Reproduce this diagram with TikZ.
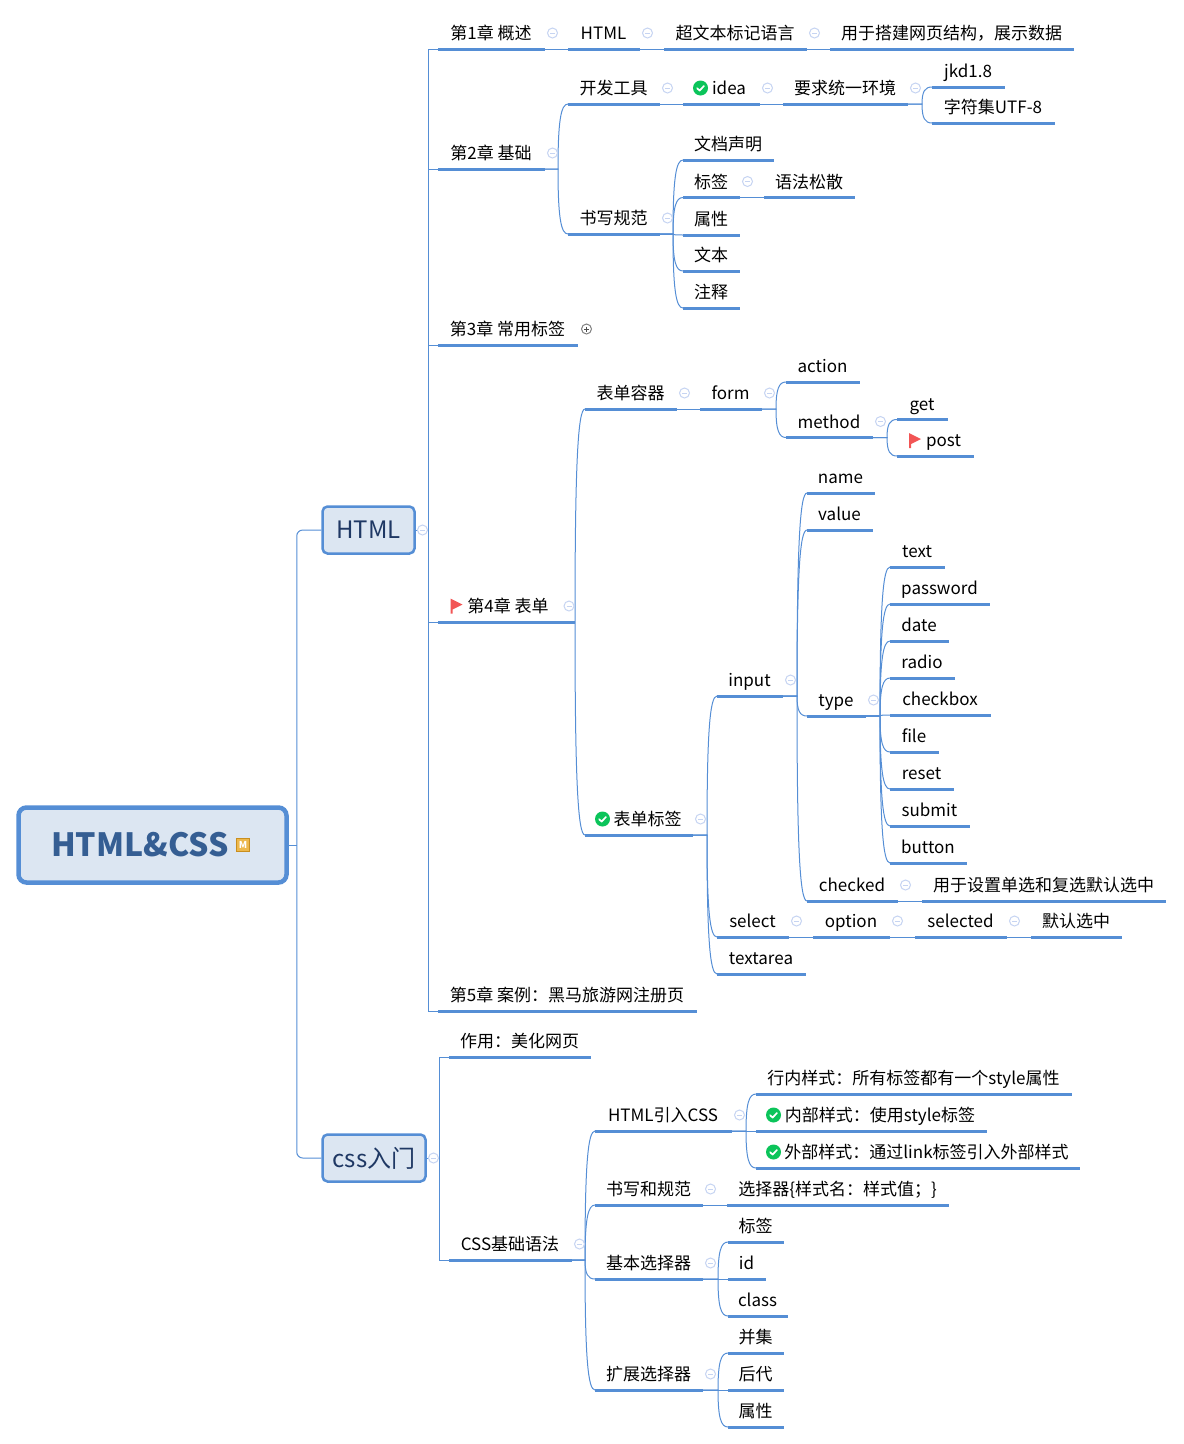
\documentclass[tikz,border=0pt]{standalone}
\usepackage{fontspec}
\setmainfont{Noto Sans CJK SC}
\usetikzlibrary{calc}
\definecolor{lineblue}{HTML}{558ED5}
\definecolor{boxfill}{HTML}{DCE6F2}
\definecolor{roottext}{HTML}{355E93}
\definecolor{subtext}{HTML}{1F3864}
\definecolor{colring}{HTML}{C6D4F2}
\definecolor{okgreen}{HTML}{0BC45A}
\definecolor{flagred}{HTML}{F25555}
\definecolor{mfill}{HTML}{EDB84C}
\definecolor{mdraw}{HTML}{C98E1E}
\tikzset{
  topic/.style={anchor=south west,inner sep=0pt,outer sep=0pt,minimum height=32pt,text height=13pt,text depth=0pt,align=center,font=\fontsize{17}{20}\selectfont,text=black},
  uline/.style={draw=lineblue,line width=3pt},
  thin link/.style={draw=lineblue,line width=1pt},
  curvelink/.style={draw=lineblue,line width=1pt},
  colicon/.style={circle,draw=colring,fill=white,line width=1pt,minimum size=10pt,inner sep=0pt},
  rootbox/.style={draw=lineblue,fill=boxfill,line width=4.5pt,rounded corners=8pt,minimum width=268pt,minimum height=75pt,inner sep=0pt,text=roottext,font=\fontsize{32}{36}\selectfont\bfseries},
  subbox/.style={draw=lineblue,fill=boxfill,line width=2.5pt,rounded corners=5pt,minimum height=47pt,inner sep=0pt,text=subtext,font=\fontsize{24}{28}\selectfont},
}
% name, left, right, underline y, text
\newcommand\T[5]{\node[topic,minimum width={(#3-#2)*1pt}] (#1) at (#2,#4) {#5\hspace*{1pt}};\draw[uline] (#1.south west) -- (#1.south east);}
% straight link between underlines
\newcommand\Lk[2]{\draw[thin link] (#1.south east) -- (#2.south west);}
% curved bracket link
\newcommand\Br[2]{\draw[curvelink] (#1.south east) -- ($(#1.south east -| #2.south west)+(-10,0)$) .. controls ($(#1.south east -| #2.south west)!.75!(#2.south west)+(-10,0)$) and ($(#2.south west)+(-7,0)$) .. (#2.south west);}
% square elbow link
\newcommand\Eb[2]{\draw[thin link] (#1.east) -- ($(#1.east -| #2.south west)+(-10,0)$) -- ($(#2.south west)+(-10,0)$) -- (#2.south west);}
% collapse icon relative to the right end of a topic
\newcommand\Cl[2][7.5]{\node[colicon] (#2-c) at ($(#2.south east)+(#1,-16)$) {};\draw[colring,line width=1pt] ($(#2-c.center)+(-2.5,0)$) -- ($(#2-c.center)+(2.5,0)$);}
\newcommand\Chk[2]{\fill[okgreen] (#1,#2) circle (7.5);\draw[white,line width=1.7pt,line cap=round,line join=round] (#1-3.4,#2+0.2) -- (#1-0.9,#2+2.6) -- (#1+3.4,#2-2);}
\newcommand\Flag[2]{\fill[flagred] (#1-6,#2-7.5) -- (#1+6,#2-1.5) -- (#1-4,#2+3.5) -- (#1-4,#2+7.5) -- (#1-6,#2+7.5) -- cycle;}
\begin{document}
\begin{tikzpicture}[x=1pt,y=-1pt]
\useasboundingbox (0,0) rectangle (1184,1444);
% main boxes
\node[rootbox] (root) at (152.5,845) {HTML\&CSS\hspace*{25pt}};
\node[subbox,minimum width=92pt] (html) at (368.5,530) {HTML};
\node[subbox,minimum width=103pt] (css) at (374,1158) {css入门};
\coordinate (rootj) at ($(root.east)+(8,0)$);
\draw[thin link] (root.east) -- (rootj);
\draw[thin link,rounded corners=6pt] (html.west) -- (rootj |- html.west) -- (rootj |- css.west) -- (css.west);
\draw[fill=mfill,draw=mdraw,line width=1pt] (236.5,838) rectangle (249.5,851);
\node[inner sep=0pt,text=white,font=\fontsize{9.5}{10}\selectfont\bfseries] (rootm) at (243,844.5) {M};

% Chapter 1
\T{c1}{438}{545}{49}{第1章 概述}
\T{c1a}{568}{640}{49}{HTML}
\T{c1b}{664}{807}{49}{超文本标记语言}
\T{c1c}{830}{1074}{49}{用于搭建网页结构，展示数据}
% Chapter 2
\T{c2}{438}{545}{169}{第2章 基础}
\T{c2a}{568}{660}{104}{开发工具}
\T{idea}{683}{760}{104}{\hspace*{16pt}idea}
\T{env}{783}{908}{104}{要求统一环境}
\T{jkd}{932}{1005}{87}{jkd1.8}
\T{utf}{932}{1055}{123}{字符集UTF-8}
\T{c2b}{568}{660}{234}{书写规范}
\T{doc}{683}{774}{160}{文档声明}
\T{tag}{683}{740}{197.5}{标签}
\T{loose}{764}{855}{197.5}{语法松散}
\T{attr}{683}{740}{235}{属性}
\T{txt}{683}{740}{271}{文本}
\T{cmt}{683}{740}{308}{注释}
% Chapter 3
\T{c3}{438}{578}{345}{第3章 常用标签}
% Chapter 4
\T{c4}{438}{575}{622}{\hspace*{16pt}第4章 表单\hspace*{12pt}}
\T{fc}{585}{677}{409}{表单容器}
\T{form}{700}{762}{409}{form}
\T{action}{786}{860}{382}{action}
\T{method}{786}{873}{437.5}{method}
\T{get}{897}{948}{419.5}{get}
\T{post}{897}{974}{456}{\hspace*{17pt}post}
\T{ft}{585}{693}{835}{\hspace*{18pt}表单标签}
\T{input}{717}{783}{696}{input}
\T{name}{807}{875}{493}{name}
\T{value}{807}{873}{530}{value}
\T{type}{807}{866}{716}{type}
\T{ttext}{890}{945}{567}{text}
\T{tpass}{890}{990}{604}{password}
\T{tdate}{890}{949}{641}{date}
\T{tradio}{890}{955}{678}{radio}
\T{tcheck}{890}{991}{715}{checkbox}
\T{tfile}{890}{939}{752}{file}
\T{treset}{890}{954}{789}{reset}
\T{tsubmit}{890}{970}{826}{submit}
\T{tbutton}{890}{967}{863}{button}
\T{checked}{807}{898}{901}{checked}
\T{chkdesc}{922}{1166}{901}{用于设置单选和复选默认选中}
\T{select}{717}{789}{937}{select}
\T{option}{813}{890}{937}{option}
\T{selected}{915}{1007}{937}{selected}
\T{default}{1031}{1122}{937}{默认选中}
\T{textarea}{717}{806}{974}{textarea}
% Chapter 5
\T{c5}{438}{697}{1011}{第5章 案例：黑马旅游网注册页}
% CSS
\T{effect}{449}{591}{1057}{作用：美化网页}
\T{basic}{449}{572}{1260}{CSS基础语法}
\T{import}{595}{732}{1131}{HTML引入CSS}
\T{inline}{756}{1072}{1094}{行内样式：所有标签都有一个style属性}
\T{internal}{756}{987}{1131}{\hspace*{18pt}内部样式：使用style标签}
\T{external}{756}{1080}{1168}{\hspace*{18pt}外部样式：通过link标签引入外部样式}
\T{write}{595}{703}{1205}{书写和规范}
\T{rule}{727}{949}{1205}{选择器\{样式名：样式值；\}}
\T{bsel}{595}{703}{1279}{基本选择器}
\T{stag}{728}{784}{1242}{标签}
\T{sid}{728}{766}{1279}{id}
\T{sclass}{728}{788}{1316}{class}
\T{esel}{595}{703}{1390}{扩展选择器}
\T{union}{728}{784}{1353}{并集}
\T{desc}{728}{784}{1390}{后代}
\T{sattr}{728}{784}{1427}{属性}

% connectors
\Eb{html}{c1}\Eb{html}{c2}\Eb{html}{c3}\Eb{html}{c4}\Eb{html}{c5}
\Lk{c1}{c1a}\Lk{c1a}{c1b}\Lk{c1b}{c1c}
\Br{c2}{c2a}\Br{c2}{c2b}
\Lk{c2a}{idea}\Lk{idea}{env}
\Br{env}{jkd}\Br{env}{utf}
\Br{c2b}{doc}\Br{c2b}{tag}\Br{c2b}{attr}\Br{c2b}{txt}\Br{c2b}{cmt}
\Lk{tag}{loose}
\Br{c4}{fc}\Br{c4}{ft}
\Lk{fc}{form}
\Br{form}{action}\Br{form}{method}
\Br{method}{get}\Br{method}{post}
\Br{ft}{input}\Br{ft}{select}\Br{ft}{textarea}
\Br{input}{name}\Br{input}{value}\Br{input}{type}\Br{input}{checked}
\Br{type}{ttext}\Br{type}{tpass}\Br{type}{tdate}\Br{type}{tradio}\Br{type}{tcheck}\Br{type}{tfile}\Br{type}{treset}\Br{type}{tsubmit}\Br{type}{tbutton}
\Lk{checked}{chkdesc}
\Lk{select}{option}\Lk{option}{selected}\Lk{selected}{default}
\Eb{css}{effect}\Eb{css}{basic}
\Br{basic}{import}\Br{basic}{write}\Br{basic}{bsel}\Br{basic}{esel}
\Br{import}{inline}\Br{import}{internal}\Br{import}{external}
\Lk{write}{rule}
\Br{bsel}{stag}\Br{bsel}{sid}\Br{bsel}{sclass}
\Br{esel}{union}\Br{esel}{desc}\Br{esel}{sattr}

% collapse icons
\node[colicon] (html-c) at (422.5,530) {};\draw[colring,line width=1pt] (420,530) -- (425,530);
\node[colicon] (css-c) at (433.5,1158) {};\draw[colring,line width=1pt] (431,1158) -- (436,1158);
\Cl{c1}\Cl{c1a}\Cl{c1b}\Cl{c2}\Cl{c2a}\Cl{idea}\Cl{env}\Cl{c2b}\Cl{tag}
\Cl[-6]{c4}\Cl{fc}\Cl{form}\Cl{method}\Cl{ft}\Cl{input}\Cl{type}\Cl{checked}\Cl{select}\Cl{option}\Cl{selected}
\Cl{basic}\Cl{import}\Cl{write}\Cl{bsel}\Cl{esel}
% expanded marker on chapter 3
\node[circle,draw=black!50,fill=white,line width=1pt,minimum size=10pt,inner sep=0pt] (c3-c) at (586.5,329) {};
\draw[black!70,line width=1pt] (584,329) -- (589,329) (586.5,326.5) -- (586.5,331.5);

% marks
\Chk{700.5}{88}
\Chk{602.5}{819}
\Chk{773.5}{1115}
\Chk{773.5}{1152}
\Flag{456.5}{606}
\Flag{915}{440.5}
\end{tikzpicture}
\end{document}
